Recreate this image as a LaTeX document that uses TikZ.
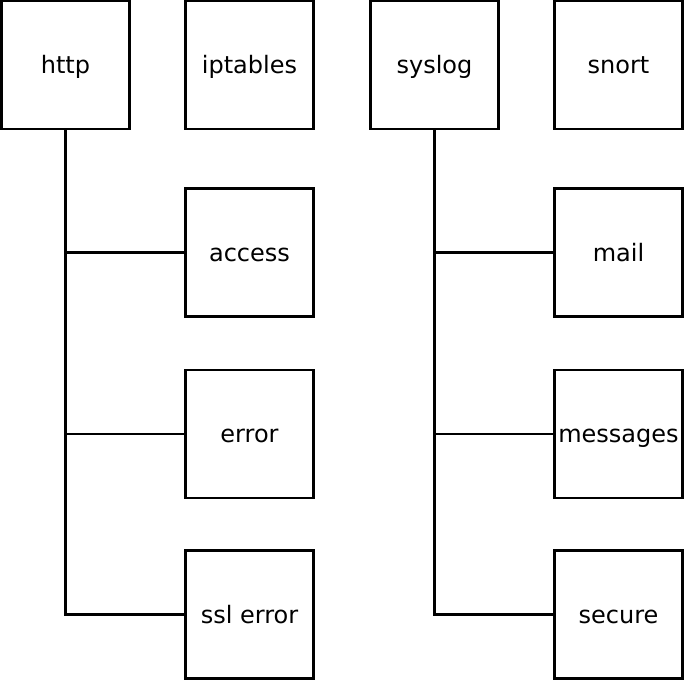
\documentclass[tikz,border=0pt]{standalone}
\usepackage{fontspec}
\setmainfont{DejaVu Sans}
\begin{document}
\begin{tikzpicture}[x=1bp,y=-1bp,
  box/.style={draw=black, line width=2.6bp, minimum size=128bp, inner sep=0pt, text height=17bp, text depth=0bp, font=\fontsize{24bp}{28bp}\selectfont},
  conn/.style={draw=black, line width=2.6bp}]
\useasboundingbox (0,0) rectangle (685,681);
\node[box] (http) at (65.5,65) {http};
\node[box] (iptables) at (249.5,65) {iptables};
\node[box] (syslog) at (434.5,65) {syslog};
\node[box] (snort) at (618.5,65) {snort};
\node[box] (access) at (249.5,252.5) {access};
\node[box] (error) at (249.5,434) {error};
\node[box] (ssl) at (249.5,614.5) {ssl error};
\node[box] (mail) at (618.5,252.5) {mail};
\node[box] (messages) at (618.5,434) {messages};
\node[box] (secure) at (618.5,614.5) {secure};
\draw[conn] (http.south) |- (access.west);
\draw[conn] (http.south) |- (error.west);
\draw[conn] (http.south) |- (ssl.west);
\draw[conn] (syslog.south) |- (mail.west);
\draw[conn] (syslog.south) |- (messages.west);
\draw[conn] (syslog.south) |- (secure.west);
\end{tikzpicture}
\end{document}
